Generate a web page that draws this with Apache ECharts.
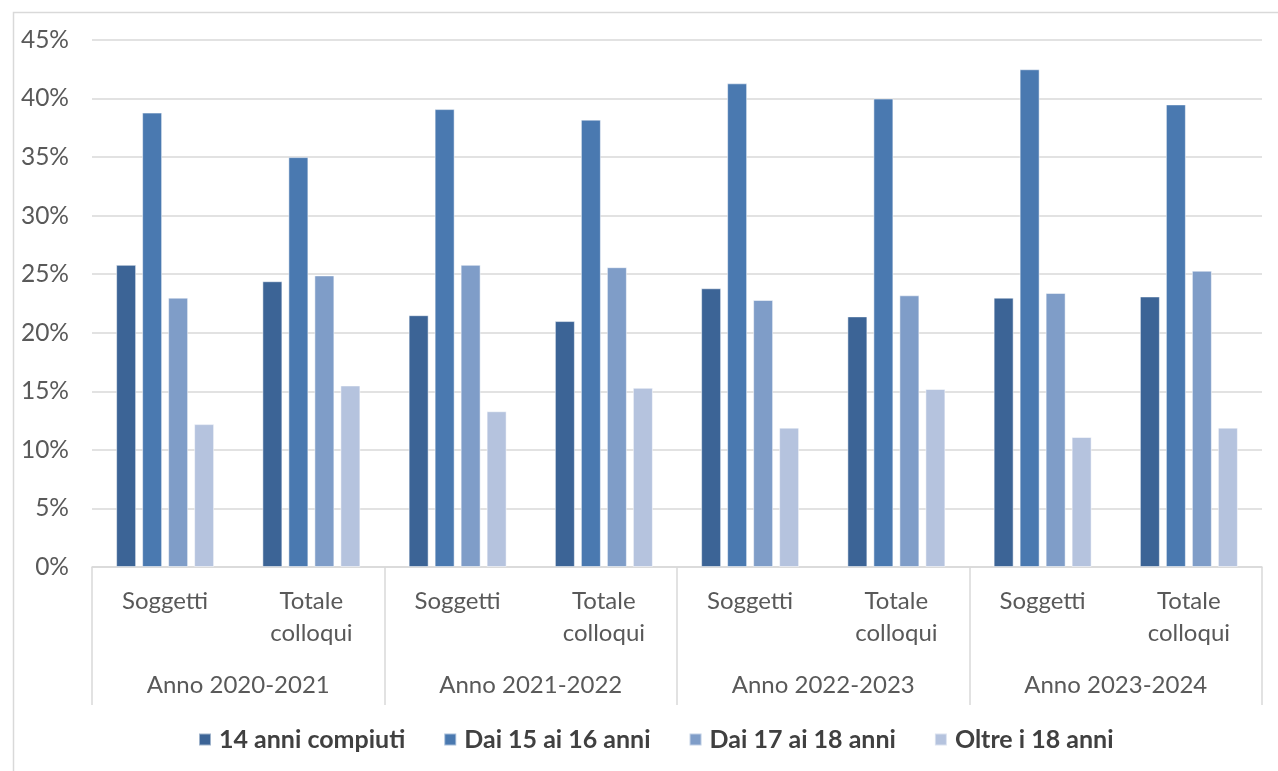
<!DOCTYPE html>
<html>
<head>
<meta charset="utf-8">
<script src="https://cdn.jsdelivr.net/npm/echarts@6/dist/echarts.min.js"></script>
<style>
  html, body { margin: 0; padding: 0; background: #fff; }
  #chart { width: 1278px; height: 771px; }
</style>
</head>
<body>
<div id="chart"></div>
<script>
// sub-categories (one per bar group) and the year groups below them
const subCategories = ['Soggetti', 'Totale\ncolloqui', 'Soggetti', 'Totale\ncolloqui',
  'Soggetti', 'Totale\ncolloqui', 'Soggetti', 'Totale\ncolloqui']
const yearGroups = ['Anno 2020-2021', 'Anno 2021-2022', 'Anno 2022-2023', 'Anno 2023-2024']

const seriesNames = ['14 anni compiuti', 'Dai 15 ai 16 anni', 'Dai 17 ai 18 anni', 'Oltre i 18 anni']

// percentages
const anni14 = [25.8, 24.4, 21.5, 21.0, 23.8, 21.4, 23.0, 23.1]
const anni15_16 = [38.8, 35.0, 39.1, 38.2, 41.3, 40.0, 42.5, 39.5]
const anni17_18 = [23.0, 24.9, 25.8, 25.6, 22.8, 23.2, 23.4, 25.3]
const oltre18 = [12.2, 15.5, 13.3, 15.3, 11.9, 15.2, 11.1, 11.9]

const colors = ['#3c6496', '#4a79b0', '#7f9dc8', '#b5c3de']
const FONT = 'Lato, "Noto Sans", sans-serif'

const chart = echarts.init(document.getElementById('chart'))

const makeSeries = (name, data, i) => ({
  name,
  type: 'bar',
  data,
  xAxisIndex: 0,
  barWidth: 20,
  barGap: '30%',
  itemStyle: {
    color: colors[i],
    borderColor: 'rgba(255,255,255,0.5)',
    borderWidth: 1
  }
})

const option = {
  animation: false,
  backgroundColor: '#fff',
  textStyle: { fontFamily: FONT },
  grid: { left: 92, right: 16, top: 40, bottom: 204, containLabel: false },
  graphic: [{
    type: 'rect',
    left: 11, top: 10,
    shape: { width: 1300, height: 800 },
    style: { fill: 'none', stroke: '#d9d9d9', lineWidth: 1.5 },
    silent: true
  }],
  legend: {
    bottom: 14,
    left: 193,
    itemWidth: 12,
    itemHeight: 12,
    itemGap: 38,
    icon: 'rect',
    textStyle: { fontFamily: FONT, fontSize: 25, fontWeight: 'bold', color: '#404040', padding: [0, 0, 0, 3] },
    data: seriesNames
  },
  xAxis: [{
    type: 'category',
    data: subCategories,
    axisLine: { lineStyle: { color: '#d9d9d9', width: 1.5 } },
    axisTick: { show: false },
    axisLabel: { color: '#595959', fontSize: 24, lineHeight: 32, margin: 18, interval: 0, fontFamily: FONT }
  }, {
    type: 'category',
    data: yearGroups,
    position: 'bottom',
    axisLine: { show: false },
    axisTick: { show: true, length: 138, interval: 0, lineStyle: { color: '#d9d9d9', width: 1.5 } },
    axisLabel: { color: '#595959', fontSize: 24, margin: 106, interval: 0, fontFamily: FONT }
  }],
  yAxis: {
    type: 'value',
    min: 0,
    max: 45,
    interval: 5,
    axisLine: { show: false },
    axisTick: { show: false },
    splitLine: { lineStyle: { color: '#d9d9d9', width: 1.5 } },
    axisLabel: { color: '#595959', fontSize: 24.5, margin: 23, formatter: '{value}%', fontFamily: FONT }
  },
  series: [
    makeSeries(seriesNames[0], anni14, 0),
    makeSeries(seriesNames[1], anni15_16, 1),
    makeSeries(seriesNames[2], anni17_18, 2),
    makeSeries(seriesNames[3], oltre18, 3)
  ]
}

chart.setOption(option)
</script>
</body>
</html>
